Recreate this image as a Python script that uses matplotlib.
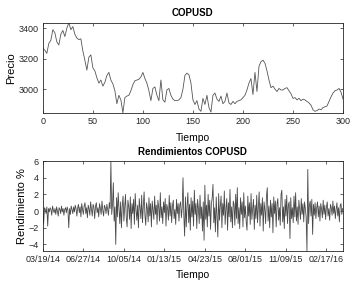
import numpy as np
import matplotlib
matplotlib.use("Agg")
import matplotlib.pyplot as plt
import matplotlib.dates as mdates
import datetime as dt

plt.rcParams['font.family'] = ['Liberation Sans', 'DejaVu Sans']

# precio COPUSD (cada 2 observaciones)
tiempo = np.arange(0, 301, 2)
precio = [3270, 3255, 3235, 3300, 3320, 3390, 3370, 3310, 3290, 3360,
          3385, 3345, 3400, 3435, 3390, 3410, 3360, 3335, 3325, 3330,
          3250, 3190, 3125, 3210, 3225, 3140, 3120, 3075, 3040, 3060,
          3020, 3045, 3090, 3110, 3060, 3035, 2990, 2905, 2960, 2930,
          2845, 2945, 2955, 2960, 2990, 3030, 3055, 3060, 3065, 3080,
          3110, 3070, 3040, 2990, 2925, 3005, 3015, 2960, 2925, 3060,
          2930, 2915, 2995, 3005, 2960, 2935, 2925, 2925, 2930, 2945,
          3000, 3090, 3105, 3095, 3040, 2930, 2900, 2925, 2870, 2855,
          2940, 2900, 2960, 2880, 2850, 2960, 2975, 2935, 2920, 2955,
          2905, 2920, 2975, 2910, 2900, 2920, 2905, 2920, 2925, 2930,
          2945, 2960, 2995, 3040, 3070, 2965, 3110, 2985, 3150, 3180,
          3190, 3170, 3120, 3060, 3010, 3020, 3000, 2985, 3005, 2995,
          2995, 3005, 3010, 2990, 2970, 2940, 2945, 2930, 2940, 2925,
          2935, 2930, 2920, 2910, 2895, 2865, 2855, 2860, 2870, 2865,
          2880, 2885, 2890, 2920, 2950, 2975, 2990, 2995, 3005, 2980,
          2935]

# rendimientos % (cada 2 dias)
inicio = dt.datetime(2014, 3, 19)
fin = dt.datetime(2016, 3, 29)
rend = [0.1, -1.5, 0.4, 0.2, -0.3, 0.5, -1.8, 0.3, -0.1, 0.4,
        0.2, -0.5, 0.6, 0.1, -0.2, 0.3, -0.4, 0.5, 0.0, -0.6,
        0.4, 0.2, -0.3, 0.6, -0.1, 0.3, -0.5, 0.2, 0.4, -0.2,
        0.5, 0.1, -2.0, 0.3, -0.4, 0.6, 0.2, -0.3, 0.5, -0.1,
        0.7, 0.3, -0.6, 0.4, 0.8, -0.2, 0.5, -0.7, 0.9, 0.2,
        -0.4, 0.6, 1.0, -0.3, 0.4, -0.8, 0.7, 0.3, -0.5, 1.1,
        0.2, -0.6, 0.8, 0.5, -0.9, 0.6, 1.0, -0.2, 0.4, -0.7,
        0.9, 0.3, -0.4, 1.2, 0.1, -0.6, 0.7, 0.4, -0.3, 0.8,
        0.2, -0.5, 1.0, 0.3, 6.0, -0.4, 0.8, 3.4, -1.2, 0.5,
        -4.0, 1.6, -0.7, 2.2, 0.4, -1.5, 1.1, -2.0, 0.6, 1.8,
        -1.2, 0.3, 2.0, -0.8, -1.9, 1.3, 0.5, -1.0, 1.7, -2.1,
        0.9, -0.3, 1.4, -1.6, 2.1, 0.2, -1.1, 0.7, -2.0, 1.5,
        0.4, -0.9, 1.9, -1.4, 0.6, 2.3, -0.5, -1.7, 1.0, 0.3,
        -1.3, 1.6, -0.6, 0.9, -1.9, 1.2, 0.1, -1.0, 1.8, -0.4,
        0.7, -1.6, 1.3, 0.4, -1.2, 2.2, -0.8, 0.5, -1.5, 1.1,
        -0.2, 1.5, -1.8, 0.8, 0.3, -1.1, 1.9, -0.6, 1.0, -1.4,
        0.6, 1.3, -0.9, 0.2, -1.6, 1.4, -0.3, 0.9, -1.2, 0.7,
        1.1, -0.8, 0.4, 4.0, -0.5, -3.0, 1.7, -1.9, 0.6, 2.2,
        -1.4, 0.8, -2.3, 1.6, -0.7, 1.2, -1.8, 2.5, -0.4, 0.9,
        -2.1, 1.4, 0.3, -1.5, 1.9, -0.9, 0.5, -2.4, 1.1, -3.5,
        3.1, -1.0, 0.7, -1.9, 2.0, -0.6, 1.3, -2.2, 0.8, 1.6,
        3.2, -1.4, 0.4, -2.5, 1.7, -0.8, -3.1, 2.1, -1.1, 0.6,
        1.8, -2.0, 0.9, -0.5, 2.4, -1.6, 0.3, 1.5, -2.3, 1.0,
        -0.7, 2.6, -1.3, 0.5, -2.0, 1.2, 0.8, -1.7, 2.0, -0.9,
        2.8, -1.5, 0.4, -2.1, 1.6, -0.4, 1.1, -1.9, 2.2, -0.8,
        0.6, -1.3, -2.3, 1.8, -0.6, 1.0, -1.6, 2.1, -1.0, 0.3,
        1.4, -2.2, 0.7, -0.9, 1.9, -1.4, 0.5, 2.3, -1.8, 0.9,
        -0.5, 1.6, -2.4, 1.1, 0.2, -1.5, 1.8, 2.8, -1.2, 0.6,
        -2.0, 1.3, -0.7, 0.9, -2.6, 1.7, -0.3, 1.2, -1.9, 0.8,
        1.5, -1.1, 0.4, -1.7, 2.0, 2.5, -1.3, 0.5, -2.1, 1.4,
        -0.6, 1.9, -1.5, 0.7, 1.1, -3.3, 1.6, -0.9, 0.4, -1.4,
        1.8, -0.7, 2.2, -1.2, 0.5, -1.6, 1.3, 0.2, -1.0, 1.5,
        -0.4, 0.9, -1.3, 1.1, 0.3, -0.8, -4.8, 5.0, -1.5, 0.7,
        1.2, -0.6, 1.4, -2.8, 0.8, -0.5, 1.0, -0.9, 0.4, 1.1,
        -0.7, 0.6, -1.2, 0.9, 0.2, -0.8, 1.3, -0.4, 0.7, -1.0,
        0.5, 1.1, -0.6, 0.3, -1.1, 0.8, 0.4, -0.5, 1.2, -0.3,
        0.6, -0.9, 0.2, 1.0, -0.6, 0.4, -1.3, 0.7, 0.9, -0.4, 0.3]
fechas = [inicio + dt.timedelta(days=2 * i) for i in range(len(rend))]
ticks_fecha = [inicio + dt.timedelta(days=100 * k) for k in range(8)]

fig = plt.figure(figsize=(3.54, 2.85), dpi=100)

def estilo(ax):
    ax.tick_params(direction='in', top=True, right=True, labelsize=6.5,
                   length=2.5, width=0.5, pad=3, colors='#262626')
    for s in ax.spines.values():
        s.set_linewidth(0.6)
        s.set_color('#262626')

ax1 = fig.add_axes([0.121, 0.604, 0.848, 0.316])
ax1.plot(tiempo, precio, color='#555555', lw=0.6)
ax1.set_xlim(0, 300)
ax1.set_ylim(min(precio), max(precio))
ax1.set_xticks(range(0, 301, 50))
ax1.set_yticks([3000, 3200, 3400])
ax1.set_title('COPUSD', fontsize=7, fontweight='bold', pad=5)
ax1.set_xlabel('Tiempo', fontsize=7.5, labelpad=5)
ax1.set_ylabel('Precio', fontsize=8, labelpad=2)
estilo(ax1)

ax2 = fig.add_axes([0.121, 0.119, 0.848, 0.316])
ax2.plot(fechas, rend, color='#4a4a4a', lw=0.6)
ax2.set_xlim(inicio, fin)
ax2.set_ylim(min(rend), max(rend))
ax2.set_xticks(ticks_fecha)
ax2.xaxis.set_major_formatter(mdates.DateFormatter('%m/%d/%y'))
ax2.set_yticks([-4, -2, 0, 2, 4, 6])
ax2.set_title('Rendimientos COPUSD', fontsize=7, fontweight='bold', pad=4)
ax2.set_xlabel('Tiempo', fontsize=7.5, labelpad=4)
ax2.set_ylabel('Rendimiento %', fontsize=8, labelpad=1)
estilo(ax2)

fig.savefig('out.png', dpi=100)
